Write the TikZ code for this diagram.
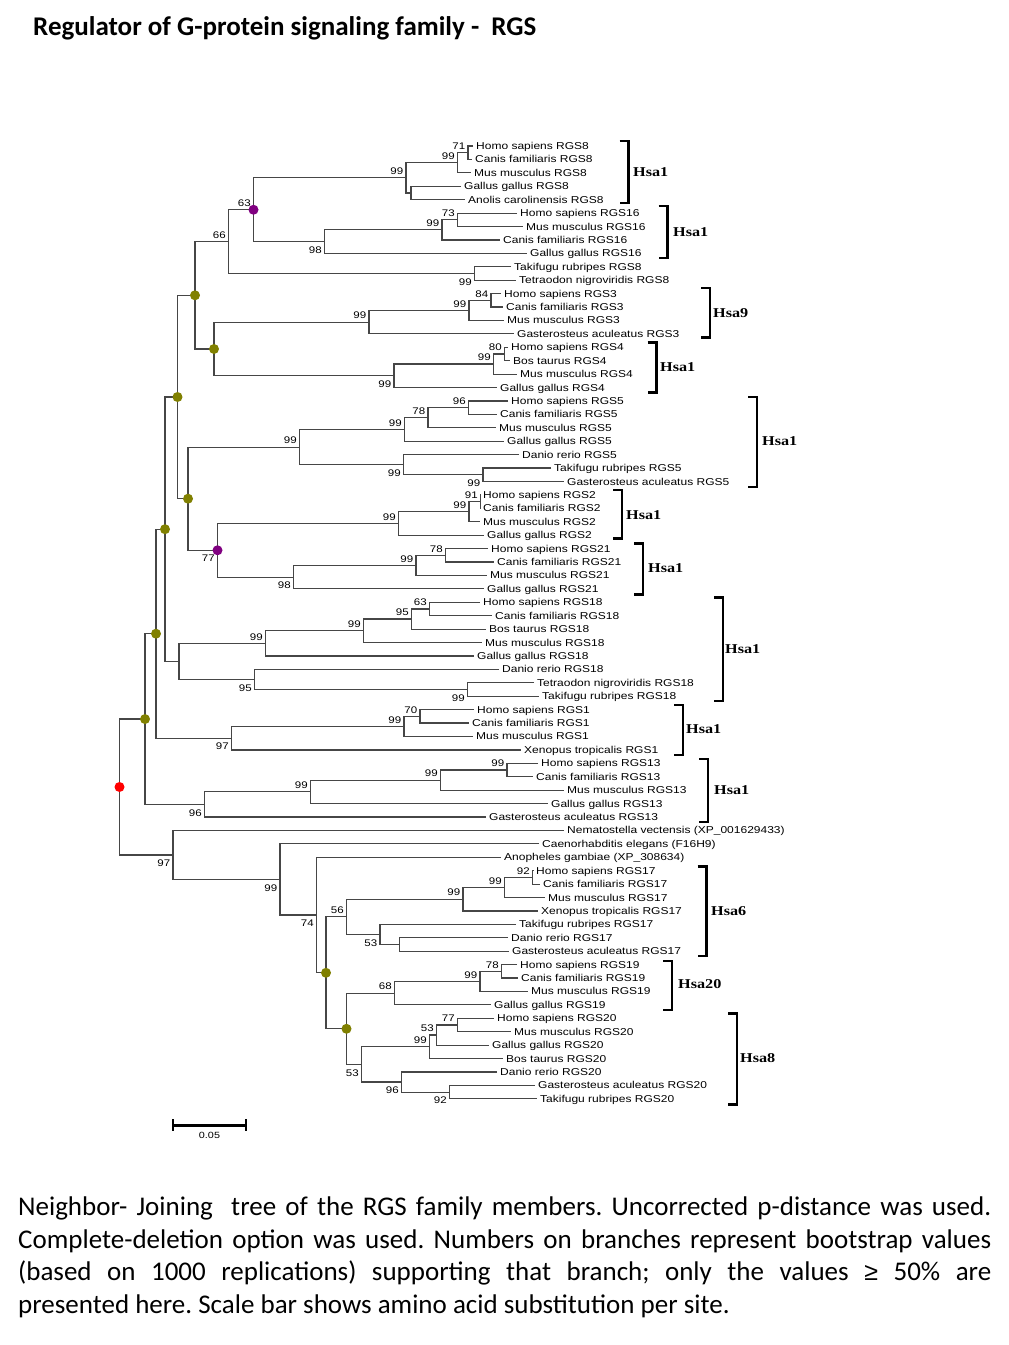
\documentclass[tikz,border=0pt]{standalone}
\usepackage{fontspec}
\setmainfont{Carlito}
\newfontfamily\treefont[FakeStretch=1.2]{Liberation Sans}
\newfontfamily\hsafont[FakeStretch=1.2]{Liberation Serif}
\newfontfamily\symfont{Liberation Sans}
\usetikzlibrary{calc}
\definecolor{olivedot}{RGB}{128,128,0}
\definecolor{purpledot}{RGB}{128,0,128}
\definecolor{reddot}{RGB}{255,0,0}
\definecolor{branchcol}{RGB}{70,70,70}
\tikzset{
 br/.style={draw=branchcol,line width=1.2pt},
 lf/.style={anchor=west,inner xsep=3pt,inner ysep=0pt,text height=7pt,text depth=0pt,font=\treefont\fontsize{10}{11}\selectfont},
 bsbase/.style={inner sep=0.5pt,text height=6.8pt,text depth=0pt,font=\treefont\fontsize{9.6}{11}\selectfont,xshift=-2pt},
 bsa/.style={bsbase,anchor=south east,yshift=2.6pt},
 bsb/.style={bsbase,anchor=north east,yshift=-4.2pt},
 dotnode/.style={circle,inner sep=0pt,minimum size=10pt,draw=none},
 brk/.style={line width=2.8pt,line cap=butt,line join=miter},
 hsa/.style={anchor=west,inner sep=0pt,font=\hsafont\bfseries\fontsize{13.5}{15}\selectfont},
}
\newcommand\mkleaf[4]{%
  \node[lf] (#1) at ({#3-3},{146+(#2-1)*13.42}) {#4};}
\newcommand\mkcladen[4]{%
  \coordinate (#1-m) at ($(#3)!0.5!(#4)$);
  \coordinate (#1-x) at (#2,0);
  \coordinate (#1) at (#1-x |- #1-m);
  \draw[br] (#3) -| (#1) |- (#4);}
\newcommand\mkclade[6]{%
  \mkcladen{#1}{#2}{#3}{#4}
  \node[#6] (#1-l) at (#1) {#5};}
\newcommand\mkbracket[6]{%
  \draw[brk] ({#2-9},#3) -- (#2,#3) -- (#2,#4) -- ({#2-9},#4);
  \node[hsa] (#1) at (#5,#6) {Hsa#1};}
\begin{document}
\begin{tikzpicture}[x=1pt,y=-1pt]
\useasboundingbox[fill=white] (0,0) rectangle (1009,1345);
\node[anchor=base west,inner sep=0pt,font=\bfseries\fontsize{27}{32}\selectfont] (title) at (33,35) {Regulator of G-protein signaling family -\ \ RGS};
% leaves
\mkleaf{L1}{1}{476}{Homo sapiens RGS8}
\mkleaf{L2}{2}{475}{Canis familiaris RGS8}
\mkleaf{L3}{3}{474}{Mus musculus RGS8}
\mkleaf{L4}{4}{464}{Gallus gallus RGS8}
\mkleaf{L5}{5}{468}{Anolis carolinensis RGS8}
\mkleaf{L6}{6}{520}{Homo sapiens RGS16}
\mkleaf{L7}{7}{526}{Mus musculus RGS16}
\mkleaf{L8}{8}{503}{Canis familiaris RGS16}
\mkleaf{L9}{9}{530}{Gallus gallus RGS16}
\mkleaf{L10}{10}{514}{Takifugu rubripes RGS8}
\mkleaf{L11}{11}{519}{Tetraodon nigroviridis RGS8}
\mkleaf{L12}{12}{504}{Homo sapiens RGS3}
\mkleaf{L13}{13}{506}{Canis familiaris RGS3}
\mkleaf{L14}{14}{507}{Mus musculus RGS3}
\mkleaf{L15}{15}{517}{Gasterosteus aculeatus RGS3}
\mkleaf{L16}{16}{511}{Homo sapiens RGS4}
\mkleaf{L17}{17}{513}{Bos taurus RGS4}
\mkleaf{L18}{18}{520}{Mus musculus RGS4}
\mkleaf{L19}{19}{500}{Gallus gallus RGS4}
\mkleaf{L20}{20}{511}{Homo sapiens RGS5}
\mkleaf{L21}{21}{500}{Canis familiaris RGS5}
\mkleaf{L22}{22}{499}{Mus musculus RGS5}
\mkleaf{L23}{23}{507}{Gallus gallus RGS5}
\mkleaf{L24}{24}{522}{Danio rerio RGS5}
\mkleaf{L25}{25}{554}{Takifugu rubripes RGS5}
\mkleaf{L26}{26}{567}{Gasterosteus aculeatus RGS5}
\mkleaf{L27}{27}{483}{Homo sapiens RGS2}
\mkleaf{L28}{28}{483}{Canis familiaris RGS2}
\mkleaf{L29}{29}{483}{Mus musculus RGS2}
\mkleaf{L30}{30}{487}{Gallus gallus RGS2}
\mkleaf{L31}{31}{491}{Homo sapiens RGS21}
\mkleaf{L32}{32}{497}{Canis familiaris RGS21}
\mkleaf{L33}{33}{490}{Mus musculus RGS21}
\mkleaf{L34}{34}{487}{Gallus gallus RGS21}
\mkleaf{L35}{35}{483}{Homo sapiens RGS18}
\mkleaf{L36}{36}{495}{Canis familiaris RGS18}
\mkleaf{L37}{37}{489}{Bos taurus RGS18}
\mkleaf{L38}{38}{485}{Mus musculus RGS18}
\mkleaf{L39}{39}{477}{Gallus gallus RGS18}
\mkleaf{L40}{40}{502}{Danio rerio RGS18}
\mkleaf{L41}{41}{537}{Tetraodon nigroviridis RGS18}
\mkleaf{L42}{42}{542}{Takifugu rubripes RGS18}
\mkleaf{L43}{43}{477}{Homo sapiens RGS1}
\mkleaf{L44}{44}{472}{Canis familiaris RGS1}
\mkleaf{L45}{45}{476}{Mus musculus RGS1}
\mkleaf{L46}{46}{524}{Xenopus tropicalis RGS1}
\mkleaf{L47}{47}{541}{Homo sapiens RGS13}
\mkleaf{L48}{48}{536}{Canis familiaris RGS13}
\mkleaf{L49}{49}{567}{Mus musculus RGS13}
\mkleaf{L50}{50}{551}{Gallus gallus RGS13}
\mkleaf{L51}{51}{489}{Gasterosteus aculeatus RGS13}
\mkleaf{L52}{52}{567}{Nematostella vectensis (XP\_001629433)}
\mkleaf{L53}{53}{542}{Caenorhabditis elegans (F16H9)}
\mkleaf{L54}{54}{504}{Anopheles gambiae (XP\_308634)}
\mkleaf{L55}{55}{536}{Homo sapiens RGS17}
\mkleaf{L56}{56}{543}{Canis familiaris RGS17}
\mkleaf{L57}{57}{548}{Mus musculus RGS17}
\mkleaf{L58}{58}{541}{Xenopus tropicalis RGS17}
\mkleaf{L59}{59}{519}{Takifugu rubripes RGS17}
\mkleaf{L60}{60}{511}{Danio rerio RGS17}
\mkleaf{L61}{61}{512}{Gasterosteus aculeatus RGS17}
\mkleaf{L62}{62}{520}{Homo sapiens RGS19}
\mkleaf{L63}{63}{521}{Canis familiaris RGS19}
\mkleaf{L64}{64}{531}{Mus musculus RGS19}
\mkleaf{L65}{65}{494}{Gallus gallus RGS19}
\mkleaf{L66}{66}{497}{Homo sapiens RGS20}
\mkleaf{L67}{67}{514}{Mus musculus RGS20}
\mkleaf{L68}{68}{492}{Gallus gallus RGS20}
\mkleaf{L69}{69}{506}{Bos taurus RGS20}
\mkleaf{L70}{70}{500}{Danio rerio RGS20}
\mkleaf{L71}{71}{538}{Gasterosteus aculeatus RGS20}
\mkleaf{L72}{72}{540}{Takifugu rubripes RGS20}
% RGS8 / RGS16
\mkclade{a71}{468}{L1}{L2}{71}{bsa}
\mkclade{a99a}{457.5}{a71}{L3}{99}{bsa}
\mkcladen{aGA}{411}{L4}{L5}
\mkclade{a99b}{406}{a99a}{aGA}{99}{bsa}
\mkclade{b73}{457.5}{L6}{L7}{73}{bsa}
\mkclade{b99}{442}{b73}{L8}{99}{bsa}
\mkclade{b98}{324.5}{b99}{L9}{98}{bsb}
\mkclade{p63}{253.5}{a99b}{b98}{63}{bsa}
\mkclade{c99}{474.5}{L10}{L11}{99}{bsb}
\mkclade{c66}{228.5}{p63}{c99}{66}{bsa}
% RGS3
\mkclade{d84}{491}{L12}{L13}{84}{bsa}
\mkclade{d99a}{469}{d84}{L14}{99}{bsa}
\mkclade{d99b}{369}{d99a}{L15}{99}{bsa}
% RGS4
\mkclade{e80}{504.5}{L16}{L17}{80}{bsa}
\mkclade{e99a}{493.5}{e80}{L18}{99}{bsa}
\mkclade{e99b}{394}{e99a}{L19}{99}{bsb}
\mkcladen{o2}{214}{d99b}{e99b}
\mkcladen{o1}{195}{c66}{o2}
% RGS5
\mkclade{f96}{468.5}{L20}{L21}{96}{bsa}
\mkclade{f78}{428}{f96}{L22}{78}{bsa}
\mkclade{f99a}{404.5}{f78}{L23}{99}{bsa}
\mkclade{f99b}{483}{L25}{L26}{99}{bsb}
\mkclade{f99c}{403.5}{L24}{f99b}{99}{bsb}
\mkclade{f99d}{299.5}{f99a}{f99c}{99}{bsa}
% RGS2
\mkclade{g91}{480.5}{L27}{L28}{91}{bsa}
\mkclade{g99a}{469}{g91}{L29}{99}{bsa}
\mkclade{g99b}{398.5}{g99a}{L30}{99}{bsa}
% RGS21
\mkclade{h78}{445.5}{L31}{L32}{78}{bsa}
\mkclade{h99}{416}{h78}{L33}{99}{bsa}
\mkclade{h98}{293.5}{h99}{L34}{98}{bsb}
\mkclade{p77}{217.5}{g99b}{h98}{77}{bsb}
\mkcladen{o4}{188}{f99d}{p77}
\mkcladen{o3}{177.5}{o1}{o4}
% RGS18
\mkclade{i63}{429.5}{L35}{L36}{63}{bsa}
\mkclade{i95a}{411.5}{i63}{L37}{95}{bsa}
\mkclade{i99a}{363.5}{i95a}{L38}{99}{bsa}
\mkclade{i99b}{265.5}{i99a}{L39}{99}{bsa}
\mkclade{i99c}{467.5}{L41}{L42}{99}{bsb}
\mkclade{i95b}{254.5}{L40}{i99c}{95}{bsb}
\mkcladen{iR}{179}{i99b}{i95b}
\mkcladen{o5}{165}{o3}{iR}
% RGS1
\mkclade{j70}{420}{L43}{L44}{70}{bsa}
\mkclade{j99}{404}{j70}{L45}{99}{bsa}
\mkclade{j97}{231.5}{j99}{L46}{97}{bsb}
\mkcladen{o6}{156}{o5}{j97}
% RGS13
\mkclade{k99a}{507}{L47}{L48}{99}{bsa}
\mkclade{k99b}{440.5}{k99a}{L49}{99}{bsa}
\mkclade{k99c}{310.5}{k99b}{L50}{99}{bsa}
\mkclade{k96}{204.5}{k99c}{L51}{96}{bsb}
\mkcladen{o7}{145}{o6}{k96}
% RGS17
\mkclade{m92}{532.5}{L55}{L56}{92}{bsa}
\mkclade{m99a}{504.5}{m92}{L57}{99}{bsa}
\mkclade{m99b}{463}{m99a}{L58}{99}{bsa}
\mkcladen{mDG}{399.5}{L60}{L61}
\mkclade{m53}{380}{L59}{mDG}{53}{bsb}
\mkclade{m56}{346.5}{m99b}{m53}{56}{bsa}
% RGS19
\mkclade{q78}{501.5}{L62}{L63}{78}{bsa}
\mkclade{q99}{480}{q78}{L64}{99}{bsa}
\mkclade{q68}{394.5}{q99}{L65}{68}{bsa}
% RGS20
\mkclade{r77}{457.5}{L66}{L67}{77}{bsa}
\mkclade{r53a}{436.5}{r77}{L68}{53}{bsa}
\mkclade{r99}{429.5}{r53a}{L69}{99}{bsa}
\mkclade{r92}{449.5}{L71}{L72}{92}{bsb}
\mkclade{r96}{401.5}{L70}{r92}{96}{bsb}
\mkclade{r53b}{361.5}{r99}{r96}{53}{bsb}
\mkcladen{o9}{346.5}{q68}{r53b}
\mkcladen{o8}{326}{m56}{o9}
\mkclade{s74}{316.5}{L54}{o8}{74}{bsb}
\mkclade{s99}{280}{L53}{s74}{99}{bsb}
\mkclade{s97}{173}{L52}{s99}{97}{bsb}
\mkcladen{root}{119.5}{o7}{s97}
% dots
\foreach \d in {o1,o2,o3,o4,o5,o6,o7,o8,o9}
  \node[dotnode,fill=olivedot] (\d-dot) at (\d) {};
\node[dotnode,fill=purpledot] (p63-dot) at (p63) {};
\node[dotnode,fill=purpledot] (p77-dot) at (p77) {};
\node[dotnode,fill=reddot] (root-dot) at (root) {};
% brackets
\mkbracket{1}{628.5}{141}{203}{633}{172}
\mkbracket{1}{667.5}{206}{258}{673}{232.5}
\mkbracket{9}{710}{288}{337.5}{713}{313}
\mkbracket{1}{656.5}{342.5}{392.5}{660}{367}
\mkbracket{1}{757}{397}{487}{762}{441}
\mkbracket{1}{622}{490}{538.5}{626}{515}
\mkbracket{1}{643}{543.5}{594.5}{648}{568.5}
\mkbracket{1}{723}{597.5}{701}{725}{649}
\mkbracket{1}{683}{705}{755}{686}{729.5}
\mkbracket{1}{708}{759}{822}{714}{790}
\mkbracket{6}{706.5}{866.5}{956}{711}{911}
\mkbracket{20}{672}{961}{1010}{678}{984.5}
\mkbracket{8}{737}{1013.5}{1104.5}{740}{1058.5}
% scale bar
\coordinate (sbL) at (173,1125);
\coordinate (sbR) at (246,1125);
\draw[line width=3pt] (sbL) -- (sbR);
\draw[line width=2.6pt] ([yshift=6pt]sbL) -- ([yshift=-6pt]sbL);
\draw[line width=2.6pt] ([yshift=6pt]sbR) -- ([yshift=-6pt]sbR);
\node[font=\treefont\fontsize{9}{10}\selectfont,inner sep=0pt] (sblabel) at (209.5,1135) {0.05};
% caption
\tikzset{captxt/.style={anchor=base west,inner sep=0pt,font=\frenchspacing\fontsize{27}{32}\selectfont}}
\node[captxt] (cap1) at (18,1215.5) {\makebox[973pt][s]{Neighbor- Joining\ \ tree of the RGS family members. Uncorrected p-distance was used.}};
\node[captxt] (cap2) at (18,1248) {\makebox[973pt][s]{Complete-deletion option was used. Numbers on branches represent bootstrap values}};
\node[captxt] (cap3) at (18,1280.5) {\makebox[973pt][s]{(based on 1000 replications) supporting that branch; only the values {\symfont\fontsize{25}{30}\selectfont ≥} 50\% are}};
\node[captxt] (cap4) at (18,1313) {presented here. Scale bar shows amino acid substitution per site.};
\end{tikzpicture}
\end{document}
